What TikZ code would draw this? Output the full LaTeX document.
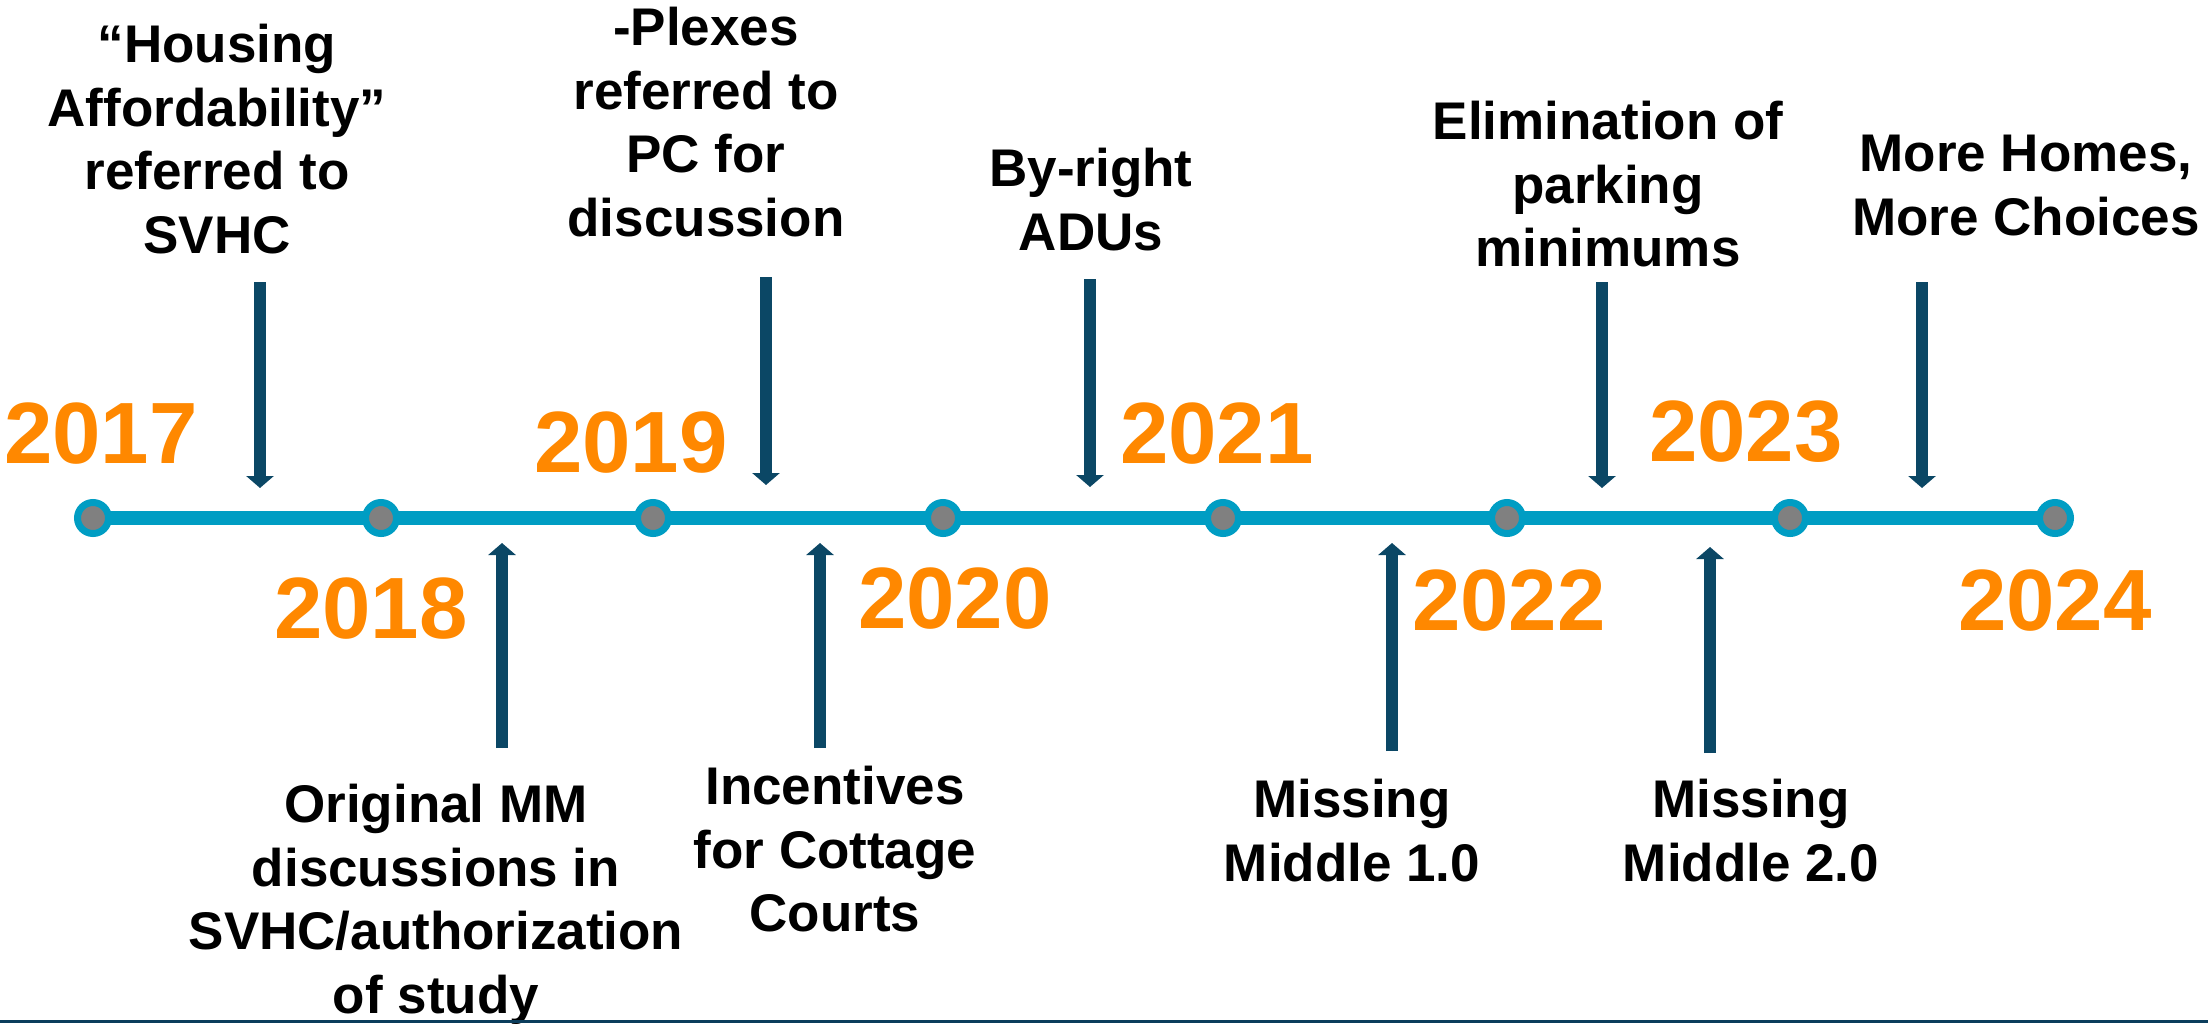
\documentclass[tikz,border=0pt]{standalone}
\usepackage{fontspec}
\setmainfont{Liberation Sans}
\usetikzlibrary{arrows.meta,backgrounds}

\definecolor{lineblue}{HTML}{009DC3}
\definecolor{arrowblue}{HTML}{0B4765}
\definecolor{yearorange}{HTML}{FF8800}
\definecolor{dotgray}{HTML}{808080}
\definecolor{edgeblue}{HTML}{0B3D5C}

\tikzset{
  dot/.style={circle, minimum size=31pt, inner sep=0pt, draw=lineblue,
    line width=7pt, fill=dotgray},
  timeline/.style={draw=lineblue, line width=14pt},
  year/.style={font=\fontsize{87}{100}\selectfont\bfseries, text=yearorange,
    anchor=base, inner sep=0pt},
  event/.style={font=\fontsize{53}{63.5}\selectfont\bfseries, align=center,
    anchor=north, inner sep=0pt},
  pointer/.style={draw=arrowblue, line width=12pt,
    -{Triangle[width=27pt,length=12pt]}, fill=arrowblue},
}

\begin{document}
\begin{tikzpicture}[x=1pt, y=-1pt]
  \useasboundingbox (0,0) rectangle (2208,1023);

  % year markers on the timeline
  \node[dot] (c1) at (93,518) {};
  \node[dot] (c2) at (381,518) {};
  \node[dot] (c3) at (653,518) {};
  \node[dot] (c4) at (943,518) {};
  \node[dot] (c5) at (1223,518) {};
  \node[dot] (c6) at (1507,518) {};
  \node[dot] (c7) at (1790,518) {};
  \node[dot] (c8) at (2055,518) {};
  \begin{pgfonlayer}{background}
    \draw[timeline] (c1.center) -- (c8.center);
  \end{pgfonlayer}

  % year labels
  \node[year] (y2017) at (101,463) {2017};
  \node[year] (y2018) at (371,638) {2018};
  \node[year] (y2019) at (631,472) {2019};
  \node[year] (y2020) at (955,628) {2020};
  \node[year] (y2021) at (1217,463) {2021};
  \node[year] (y2022) at (1509,630) {2022};
  \node[year] (y2023) at (1746,461) {2023};
  \node[year] (y2024) at (2055,630) {2024};

  % events above the line
  \node[event] (evA) at (217,24) {“Housing\\Affordability”\\referred to\\SVHC};
  \node[event] (evB) at (706,7) {-Plexes\\referred to\\PC for\\discussion};
  \node[event] (evC) at (1091,148) {By-right\\ADUs};
  \node[event] (evD) at (1608,101) {Elimination of\\parking\\minimums};
  \node[event] (evE) at (2026,135) {More Homes,\\More Choices};

  % events below the line
  \node[event] (evF) at (436,784) {Original MM\\discussions in\\SVHC/authorization\\of study};
  \node[event] (evG) at (835,766) {Incentives\\for Cottage\\Courts};
  \node[event] (evH) at (1352,779) {Missing\\Middle 1.0};
  \node[event] (evI) at (1751,779) {Missing\\Middle 2.0};

  % pointer ends
  \coordinate (pAs) at (260,282);  \coordinate (pAe) at (260,488);
  \coordinate (pBs) at (766,277);  \coordinate (pBe) at (766,485);
  \coordinate (pCs) at (1090,279); \coordinate (pCe) at (1090,487);
  \coordinate (pDs) at (1602,282); \coordinate (pDe) at (1602,488);
  \coordinate (pEs) at (1922,282); \coordinate (pEe) at (1922,488);
  \coordinate (pFs) at (502,748);  \coordinate (pFe) at (502,543);
  \coordinate (pGs) at (820,748);  \coordinate (pGe) at (820,543);
  \coordinate (pHs) at (1392,751); \coordinate (pHe) at (1392,543);
  \coordinate (pIs) at (1710,753); \coordinate (pIe) at (1710,547);

  \draw[pointer] (pAs) -- (pAe);
  \draw[pointer] (pBs) -- (pBe);
  \draw[pointer] (pCs) -- (pCe);
  \draw[pointer] (pDs) -- (pDe);
  \draw[pointer] (pEs) -- (pEe);
  \draw[pointer] (pFs) -- (pFe);
  \draw[pointer] (pGs) -- (pGe);
  \draw[pointer] (pHs) -- (pHe);
  \draw[pointer] (pIs) -- (pIe);

  % bottom edge rule
  \fill[edgeblue] (0,1020) rectangle (2208,1023);
\end{tikzpicture}
\end{document}
